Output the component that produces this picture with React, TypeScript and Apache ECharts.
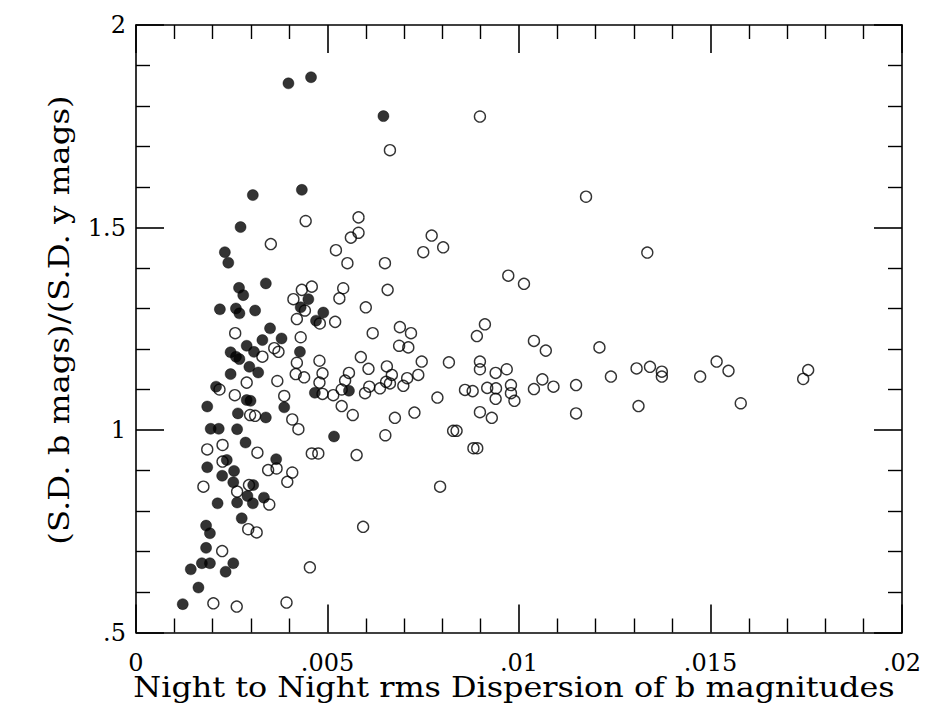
import React, { useEffect, useRef } from "react";
import * as echarts from "echarts";

// Filled circles (x = night-to-night rms dispersion of b, y = SD b / SD y)
const filledX = [
  0.00398, 0.00457, 0.00646, 0.00305, 0.00433, 0.00273, 0.00232, 0.00241, 0.00339, 0.00269,
  0.0028, 0.0045, 0.00219, 0.00261, 0.0027, 0.00311, 0.0043, 0.00489, 0.0047, 0.0035,
  0.0033, 0.0038, 0.00289, 0.00308, 0.00247, 0.00261, 0.0027, 0.00428, 0.00296, 0.00319,
  0.00247, 0.00209, 0.00467, 0.00556, 0.00289, 0.00299, 0.00186, 0.00387, 0.00266, 0.00339,
  0.00195, 0.00216, 0.00264, 0.00517, 0.00286, 0.00237, 0.00366, 0.00186, 0.00256, 0.00225,
  0.00254, 0.00306, 0.00291, 0.00334, 0.00213, 0.00264, 0.00305, 0.00276, 0.00183, 0.00193,
  0.00183, 0.00172, 0.00193, 0.00254, 0.00234, 0.00143, 0.00163, 0.00122,
];
const filledY = [
  1.856, 1.871, 1.775, 1.58, 1.593, 1.501, 1.439, 1.413, 1.362, 1.351,
  1.333, 1.323, 1.298, 1.3, 1.288, 1.295, 1.303, 1.29, 1.27, 1.251,
  1.222, 1.226, 1.208, 1.193, 1.192, 1.181, 1.175, 1.193, 1.156, 1.142,
  1.138, 1.107, 1.092, 1.097, 1.074, 1.072, 1.058, 1.056, 1.041, 1.031,
  1.003, 1.003, 1.002, 0.984, 0.969, 0.926, 0.928, 0.908, 0.899, 0.887,
  0.871, 0.864, 0.837, 0.833, 0.819, 0.821, 0.819, 0.782, 0.764, 0.745,
  0.709, 0.671, 0.671, 0.671, 0.65, 0.656, 0.611, 0.57,
];

// Open circles
const openX = [
  0.00663, 0.00898, 0.01175, 0.00443, 0.00581, 0.00581, 0.00561, 0.00772, 0.00352, 0.0075,
  0.00802, 0.00522, 0.00552, 0.0065, 0.00972, 0.01013, 0.01335, 0.00459, 0.00433, 0.00541,
  0.00531, 0.00411, 0.00657, 0.00441, 0.0042, 0.0048, 0.0052, 0.006, 0.00618, 0.00259,
  0.0043, 0.00689, 0.00718, 0.00911, 0.0089, 0.01039, 0.0107, 0.0121, 0.0033, 0.00361,
  0.00372, 0.00687, 0.00711, 0.0042, 0.00479, 0.00587, 0.00746, 0.00817, 0.00898, 0.00898,
  0.00607, 0.00655, 0.00417, 0.00439, 0.00487, 0.00556, 0.00546, 0.00479, 0.00289, 0.00369,
  0.00668, 0.00653, 0.00663, 0.00698, 0.00708, 0.00737, 0.00939, 0.00968, 0.0124, 0.01307,
  0.00218, 0.00258, 0.00487, 0.00515, 0.00537, 0.00598, 0.00609, 0.00637, 0.00787, 0.00859,
  0.00879, 0.00917, 0.0094, 0.00939, 0.00979, 0.00979, 0.00988, 0.01039, 0.01061, 0.0109,
  0.01149, 0.00387, 0.00537, 0.00566, 0.00298, 0.00311, 0.00408, 0.00424, 0.00676, 0.00727,
  0.00898, 0.00929, 0.01149, 0.01312, 0.00651, 0.00828, 0.00837, 0.00881, 0.00891, 0.00794,
  0.01342, 0.01373, 0.01373, 0.01473, 0.01516, 0.01547, 0.01579, 0.01755, 0.01742, 0.00186,
  0.00226, 0.00317, 0.00459, 0.00476, 0.00576, 0.00226, 0.00345, 0.00367, 0.00408, 0.00395,
  0.00176, 0.00295, 0.00264, 0.00348, 0.00293, 0.00315, 0.00593, 0.00225, 0.00454, 0.00202,
  0.00263, 0.00393,
];
const openY = [
  1.691, 1.774, 1.576, 1.516, 1.525, 1.487, 1.475, 1.48, 1.459, 1.439,
  1.451, 1.444, 1.412, 1.412, 1.381, 1.361, 1.438, 1.354, 1.346, 1.35,
  1.325, 1.323, 1.346, 1.295, 1.274, 1.263, 1.267, 1.303, 1.239, 1.239,
  1.229, 1.254, 1.239, 1.261, 1.232, 1.22, 1.196, 1.204, 1.181, 1.202,
  1.193, 1.208, 1.204, 1.166, 1.171, 1.18, 1.169, 1.167, 1.169, 1.15,
  1.151, 1.157, 1.138, 1.13, 1.14, 1.141, 1.122, 1.117, 1.117, 1.121,
  1.136, 1.119, 1.115, 1.109, 1.128, 1.136, 1.141, 1.15, 1.132, 1.152,
  1.1, 1.086, 1.089, 1.086, 1.1, 1.091, 1.107, 1.103, 1.08, 1.099,
  1.096, 1.104, 1.103, 1.077, 1.111, 1.091, 1.072, 1.101, 1.125, 1.107,
  1.111, 1.084, 1.059, 1.037, 1.037, 1.035, 1.026, 1.002, 1.03, 1.043,
  1.044, 1.03, 1.041, 1.059, 0.987, 0.998, 0.998, 0.955, 0.955, 0.86,
  1.156, 1.144, 1.132, 1.132, 1.169, 1.146, 1.066, 1.148, 1.126, 0.952,
  0.963, 0.944, 0.942, 0.942, 0.938, 0.922, 0.901, 0.905, 0.895, 0.872,
  0.86, 0.864, 0.848, 0.816, 0.755, 0.747, 0.761, 0.701, 0.661, 0.572,
  0.564, 0.574,
];

const xTitle = "Night to Night rms Dispersion of b magnitudes";
const yTitle = "(S.D. b mags)/(S.D. y mags)";

const FONT = "DejaVu Serif";

function fmt(v: number): string {
  if (v === 0) return "0";
  return String(parseFloat(v.toFixed(4))).replace(/^0\./, ".");
}

export default function App() {
  const ref = useRef<HTMLDivElement>(null);
  useEffect(() => {
    if (!ref.current) return;
    const chart = echarts.init(ref.current, null, { renderer: "svg" });
    const line = { color: "#000", width: 1.6 };
    const tick = { show: true, inside: true, length: 28, lineStyle: { color: "#000", width: 1.6 } };
    const minor = { show: true, splitNumber: 5, length: 14, lineStyle: { color: "#000", width: 1.4 } };
    const baseX = {
      type: "value" as const,
      min: 0,
      max: 0.02,
      interval: 0.005,
      axisLine: { show: true, onZero: false, lineStyle: line },
      axisTick: tick,
      minorTick: minor,
      splitLine: { show: false },
      minorSplitLine: { show: false },
    };
    const baseY = {
      type: "value" as const,
      min: 0.5,
      max: 2,
      interval: 0.5,
      axisLine: { show: true, onZero: false, lineStyle: line },
      axisTick: tick,
      minorTick: minor,
      splitLine: { show: false },
      minorSplitLine: { show: false },
    };
    const titleFont = `27px '${FONT}'`;
    chart.setOption({
      animation: false,
      backgroundColor: "#fff",
      grid: { left: 136, right: 27, top: 25, bottom: 74.5, containLabel: false },
      xAxis: [
        {
          ...baseX,
          position: "bottom",
          axisLabel: { formatter: fmt, fontFamily: FONT, fontSize: 24, color: "#000", margin: 18 },
        },
        { ...baseX, position: "top", axisLabel: { show: false } },
      ],
      yAxis: [
        {
          ...baseY,
          position: "left",
          axisLabel: { formatter: fmt, fontFamily: FONT, fontSize: 24, color: "#000", margin: 10 },
        },
        { ...baseY, position: "right", axisLabel: { show: false } },
      ],
      graphic: [
        {
          type: "text",
          x: 514,
          y: 688,
          scaleX: 1.18,
          style: { text: xTitle, font: titleFont, fill: "#000", align: "center", verticalAlign: "middle" },
        },
        {
          type: "text",
          x: 59,
          y: 320,
          rotation: Math.PI / 2,
          scaleX: 1.2,
          style: { text: yTitle, font: titleFont, fill: "#000", align: "center", verticalAlign: "middle" },
        },
      ],
      series: [
        {
          type: "scatter",
          name: "open",
          symbol: "circle",
          symbolSize: 11,
          itemStyle: { color: "rgba(255,255,255,0)", borderColor: "#000", borderWidth: 1.4 },
          data: openX.map((x, i) => [x, openY[i]]),
        },
        {
          type: "scatter",
          name: "filled",
          symbol: "circle",
          symbolSize: 11,
          itemStyle: { color: "#000", borderColor: "#000", borderWidth: 0.5 },
          data: filledX.map((x, i) => [x, filledY[i]]),
        },
      ],
    });
    return () => chart.dispose();
  }, []);
  return (
    <div
      ref={ref}
      style={{ position: "fixed", left: 0, top: 0, width: 929, height: 707, background: "#fff" }}
    />
  );
}
